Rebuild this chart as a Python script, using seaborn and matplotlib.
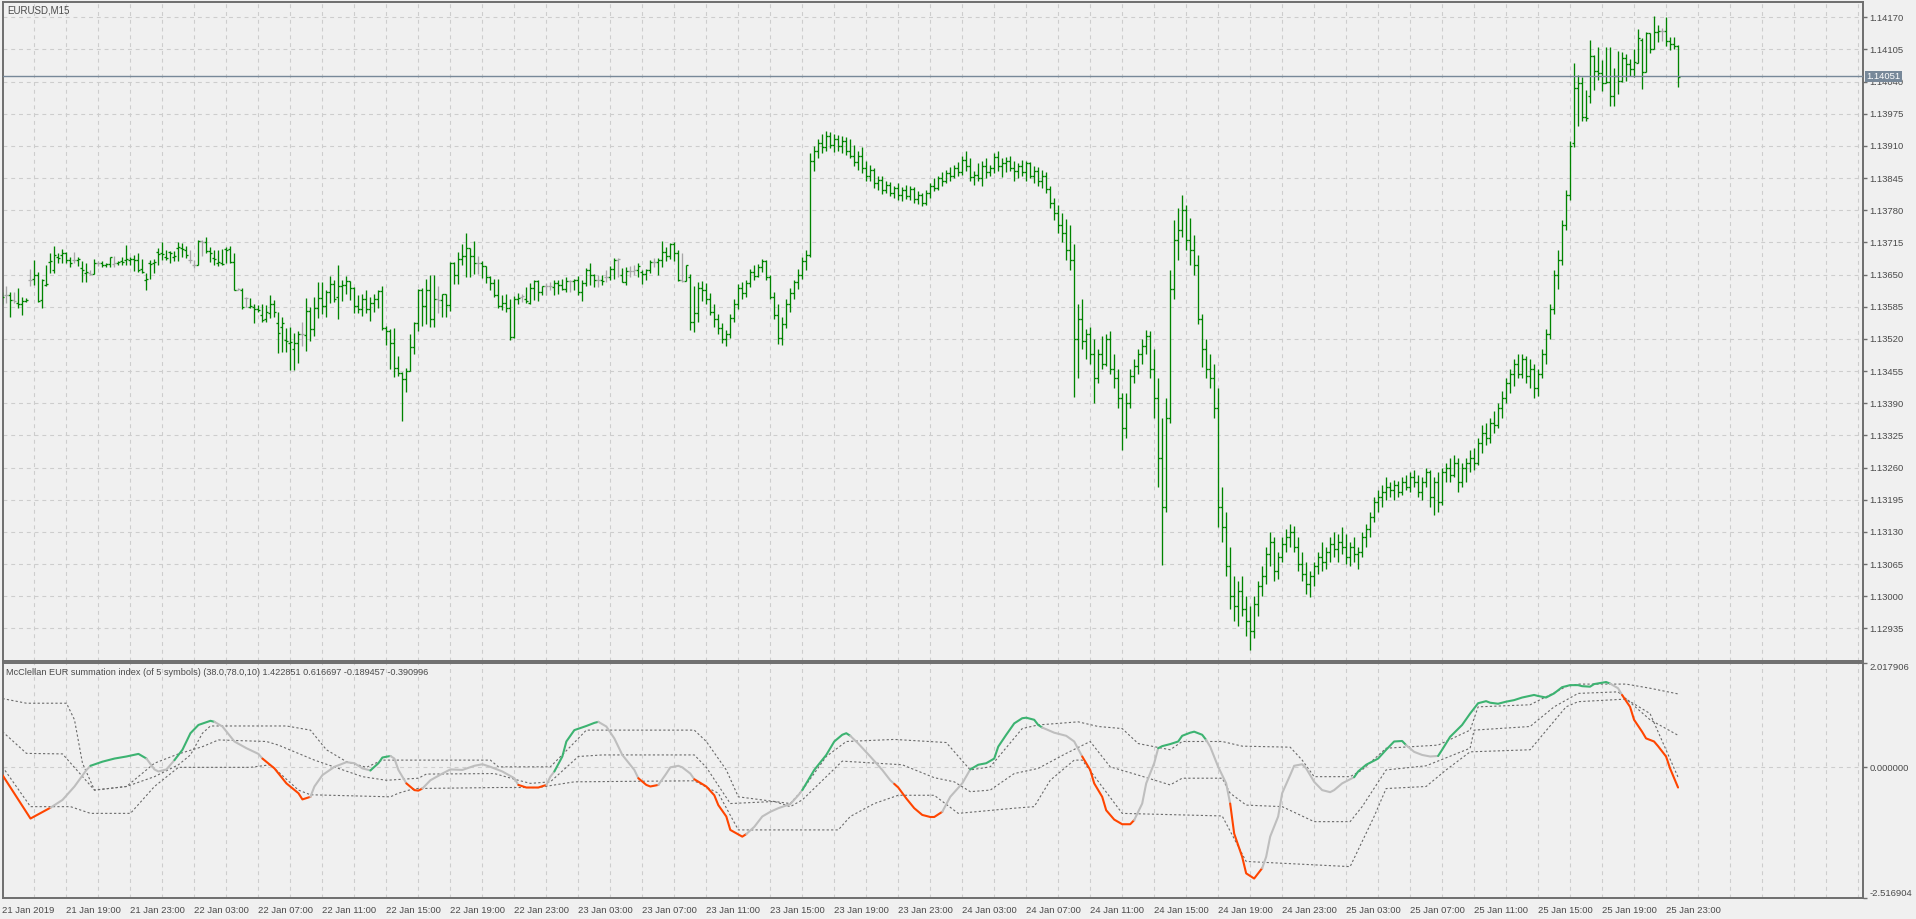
import numpy as np
import pandas as pd
import matplotlib
matplotlib.use("Agg")
import matplotlib.pyplot as plt
import seaborn as sns

sns.set_theme(style="white")
plt.rcParams['font.family'] = ['Liberation Sans', 'DejaVu Sans']

# ---------------- data ----------------
BASE = 1.12800          # prices are stored in points (1e-5) above BASE
bar_open  = [800,809,808,798,792,790,797,839,842,849,799,829,876,860,886,890,893,880,879,880,
             863,854,853,851,873,873,869,871,872,873,878,880,880,881,880,861,840,873,873,895,
             893,885,896,886,903,903,900,880,870,869,917,916,898,883,874,874,901,901,876,819,
             819,802,784,784,780,768,760,772,790,752,745,718,712,700,711,
             729,728,777,739,782,802,787,815,830,804,827,829,837,822,787,780,800,780,792,800,
             817,743,736,711,661,651,638,656,704,752,819,787,819,760,800,799,810,788,873,849,
             881,887,903,888,874,874,867,846,832,809,787,793,782,723,800,805,800,793,822,837,
             815,826,827,824,832,829,820,838,837,839,815,832,860,849,840,839,846,845,861,880,
             849,836,858,858,859,856,851,859,875,876,880,896,888,912,893,839,838,845,755,773,823,
             819,800,775,760,742,720,730,762,790,822,812,832,855,848,866,878,845,805,768,722,
             750,790,812,835,850,878,890,1080,1100,1115,1108,1130,1112,1125,1110,1120,1100,1090,1078,1090,
             1065,1050,1062,1035,1042,1020,1032,1015,1025,1010,1020,1008,1022,1002,1010,995,1015,1030,1025,1045,
             1040,1055,1050,1065,1058,1082,1070,1048,1052,1045,1070,1058,1066,1088,1070,1075,1080,1065,1060,1070,
             1058,1075,1050,1060,1040,1050,1022,995,975,950,935,900,880,720,760,715,730,690,640,690,
             670,720,660,640,600,540,590,645,665,690,705,725,660,600,480,380,560,820,920,940,
             980,920,900,870,760,700,660,640,580,380,340,260,200,180,210,175,150,130,185,220,
             240,285,310,250,280,305,320,330,300,265,245,225,240,260,280,270,290,305,295,310,
             300,280,300,285,290,320,335,360,390,400,410,420,415,425,410,430,420,440,430,410,
             430,450,400,430,390,450,460,445,470,430,460,470,480,470,510,530,520,550,545,580,
             600,630,650,670,650,680,645,660,620,650,690,730,780,850,880,950,1010,1115,1228,1237,
             1169,1211,1292,1262,1258,1238,1240,1211,1251,1241,1287,1275,1265,1278,1325,1260,1338,1305,1340,1342,
             1343,1323,1317,1312]
bar_high  = [815,827,814,814,822,804,802,861,880,855,842,869,893,908,893,901,896,886,896,886,
             878,873,859,881,878,878,873,886,888,878,885,910,885,890,893,881,853,880,881,903,
             915,900,898,898,915,913,908,900,880,919,919,925,905,900,900,901,906,908,893,822,
             822,805,802,791,789,791,789,809,799,775,765,743,745,731,735,
             754,802,785,804,836,836,819,847,839,869,839,847,838,824,809,810,819,805,811,819,
             826,746,741,743,686,654,661,730,754,820,822,842,849,849,827,811,811,876,876,896,
             912,935,903,918,888,878,867,847,842,841,809,811,800,807,812,810,824,832,839,839,
             827,832,836,840,839,842,846,840,842,847,840,863,874,851,849,849,859,867,883,883,
             863,866,867,869,874,859,861,880,883,883,917,906,913,915,900,893,869,851,827,836,838,
             832,812,790,770,752,738,770,800,830,835,840,862,870,872,882,880,850,815,790,765,
             800,822,840,862,885,900,1096,1110,1125,1135,1140,1138,1135,1133,1130,1128,1125,1112,1100,1108,
             1080,1072,1065,1050,1050,1040,1038,1030,1035,1028,1032,1030,1028,1018,1015,1020,1035,1045,1050,1058,
             1062,1068,1072,1078,1090,1100,1085,1060,1075,1080,1085,1072,1095,1100,1085,1088,1090,1080,1075,1082,
             1080,1078,1070,1068,1062,1058,1030,1005,990,975,962,950,912,790,800,740,745,720,700,725,
             730,735,690,660,610,610,660,680,700,720,738,735,700,640,560,600,860,960,985,1010,
             990,965,930,890,770,720,690,670,620,420,370,300,240,230,240,200,180,200,230,260,
             300,330,320,290,320,335,345,342,320,290,270,250,270,290,310,300,320,330,325,340,
             325,310,320,300,330,345,370,400,415,425,440,430,435,432,440,445,450,455,445,440,
             460,455,440,450,460,470,480,485,480,470,480,495,500,520,545,550,560,575,590,615,
             640,660,680,690,690,685,680,670,660,700,740,790,860,900,960,1020,1120,1278,1253,1250,
             1223,1325,1294,1309,1284,1309,1309,1267,1301,1299,1295,1285,1305,1346,1328,1341,1339,1373,1354,1348,
             1370,1330,1330,1314]
bar_low   = [790,792,764,792,782,768,795,827,829,795,782,827,853,854,873,873,874,866,874,867,
             834,836,849,851,867,866,866,866,866,869,869,869,869,858,856,853,818,842,854,869,
             880,880,874,878,878,886,883,873,863,869,888,893,876,869,867,869,874,873,818,818,
             780,784,782,753,775,755,755,762,765,691,694,694,657,657,672,
             706,696,715,726,762,771,765,793,795,760,797,811,799,772,772,767,772,757,775,782,
             738,707,659,644,645,555,613,655,690,735,746,750,745,745,772,764,764,777,831,831,
             869,845,845,851,851,843,832,819,805,782,778,775,718,722,791,795,792,791,799,797,
             809,809,818,809,811,818,815,814,818,809,797,827,829,824,824,829,834,840,842,845,
             834,829,845,849,845,831,840,854,865,849,865,878,881,878,838,836,838,738,733,755,797,
             790,768,745,730,712,706,722,755,780,800,805,825,840,845,855,840,800,760,710,708,
             742,775,800,820,842,860,885,1060,1085,1095,1100,1105,1098,1100,1095,1092,1085,1070,1062,1055,
             1040,1040,1025,1020,1012,1015,1008,1005,1000,998,1002,1000,995,992,988,990,1005,1018,1020,1030,
             1035,1040,1045,1050,1052,1060,1040,1032,1040,1030,1045,1050,1055,1060,1048,1058,1060,1040,1045,1050,
             1040,1045,1035,1030,1025,1015,985,960,935,915,880,860,602,640,700,680,670,590,630,660,
             665,650,620,580,496,520,580,630,650,670,690,640,560,420,263,370,550,800,880,925,
             900,870,850,750,664,640,620,560,340,310,240,175,150,140,160,120,91,115,160,200,
             225,260,230,235,270,290,300,290,250,230,205,199,220,245,250,255,270,280,270,285,
             265,260,270,255,280,300,320,350,370,380,395,400,395,400,405,415,410,420,400,395,
             420,380,365,370,385,430,430,440,410,420,430,450,455,465,490,505,510,530,540,560,
             590,610,625,640,640,630,620,600,605,640,670,720,770,820,870,940,1000,1108,1150,1160,
             1160,1196,1223,1243,1222,1237,1191,1191,1215,1240,1242,1251,1249,1278,1226,1260,1297,1305,1321,1323,
             1311,1304,1305,1230]
bar_close = [805,808,798,797,790,797,799,839,849,797,840,831,878,890,884,894,880,874,880,882,
             859,856,852,873,873,869,871,885,873,875,876,882,882,879,860,856,842,871,875,892,
             891,883,894,888,905,901,890,879,869,917,916,898,894,881,876,872,899,876,819,820,
             784,802,786,780,778,758,775,790,775,731,752,716,714,711,729,
             729,777,739,782,802,787,815,830,800,827,829,837,822,787,780,800,780,792,800,817,
             743,736,711,661,651,638,656,704,752,819,787,819,760,800,799,810,788,873,849,881,
             887,903,888,873,874,867,846,832,809,787,793,782,723,800,802,806,797,822,837,815,
             826,827,826,832,829,820,838,837,839,815,832,860,849,840,839,837,845,861,880,881,
             836,858,857,859,867,851,859,875,876,880,896,888,912,893,839,838,869,755,773,823,819,
             800,775,760,742,720,730,762,790,822,812,832,855,848,866,878,845,805,768,722,750,
             790,812,835,850,878,890,1080,1100,1115,1108,1130,1112,1125,1110,1120,1100,1090,1078,1090,1065,
             1050,1062,1035,1042,1020,1032,1015,1025,1010,1020,1008,1022,1002,1010,995,1015,1030,1025,1045,1040,
             1055,1050,1065,1058,1082,1070,1048,1052,1045,1070,1058,1066,1088,1070,1075,1080,1065,1060,1070,1058,
             1075,1050,1060,1040,1050,1022,995,975,950,935,900,880,720,760,715,730,690,640,690,670,
             720,660,640,600,540,590,645,665,690,705,725,660,600,480,380,560,820,920,940,980,
             920,900,870,760,700,660,640,580,380,340,260,200,180,210,175,150,130,185,220,240,
             285,310,250,280,305,320,330,300,265,245,225,240,260,280,270,290,305,295,310,300,
             280,300,285,290,320,335,360,390,400,410,420,415,425,410,430,420,440,430,410,430,
             450,400,430,390,450,460,445,470,430,460,470,480,470,510,530,520,550,545,580,600,
             630,650,670,650,680,645,660,620,650,690,730,780,850,880,950,1010,1110,1228,1237,1168,
             1167,1292,1262,1258,1238,1240,1211,1251,1241,1287,1275,1265,1280,1328,1260,1338,1305,1341,1342,1343,
             1323,1317,1311,1250]
current_price = 1.14051

ind_idx = [0,7,12,15,18,21,22,25,28,31,34,36,38,39,41,43,45,47,49,52,53,55,58,61,64,65,68,71,74,75,
           77,78,80,83,86,88,90,92,94,95,97,98,99,101,103,104,105,107,110,112,115,118,120,122,125,128,129,131,134,136,
           137,138,140,141,143,146,148,149,151,153,155,158,159,161,162,164,166,167,169,170,172,173,176,178,179,181,182,185,186,188,
           190,192,194,197,199,200,203,206,208,210,211,212,214,217,220,222,223,224,226,228,230,232,233,235,237,240,242,244,246,248,
           249,251,253,255,256,258,259,260,263,266,268,270,272,273,275,276,278,280,282,283,285,286,288,289,290,292,294,295,297,298,
           300,301,302,304,306,307,308,310,311,313,314,315,316,317,319,320,322,323,325,326,328,330,332,333,335,338,339,341,344,346,
           348,350,351,353,355,357,359,360,362,365,367,369,371,372,374,376,378,380,383,384,386,388,390,392,394,395,397,398,401,402,
           404,405,407,408,410,411,413,414,416,417,419]
ind_main = [-0.15,-0.99,-0.78,-0.63,-0.37,-0.05,0.03,0.11,0.17,0.21,0.26,0.17,-0.04,-0.08,-0.04,0.14,0.34,0.66,0.82,0.90,0.88,0.79,0.50,0.37,0.26,0.17,-0.02,-0.31,-0.50,-0.62,
            -0.57,-0.37,-0.15,0.01,0.10,0.08,-0.02,-0.06,0.08,0.19,0.22,0.17,-0.05,-0.31,-0.44,-0.45,-0.41,-0.25,-0.12,-0.04,-0.05,0.03,0.06,0.01,-0.08,-0.21,-0.34,-0.39,-0.39,-0.34,
            -0.18,-0.08,0.21,0.50,0.72,0.80,0.86,0.88,0.79,0.56,0.24,-0.05,-0.21,-0.34,-0.37,-0.34,-0.12,0.00,0.03,0.00,-0.12,-0.23,-0.37,-0.54,-0.73,-0.95,-1.21,-1.34,-1.29,-1.15,
            -0.95,-0.86,-0.79,-0.71,-0.54,-0.44,-0.05,0.24,0.50,0.63,0.66,0.61,0.46,0.21,-0.05,-0.25,-0.32,-0.39,-0.60,-0.79,-0.92,-0.96,-0.96,-0.86,-0.57,-0.31,-0.04,0.05,0.08,0.17,
            0.40,0.63,0.85,0.95,0.96,0.92,0.82,0.77,0.67,0.61,0.50,0.21,-0.05,-0.31,-0.57,-0.83,-1.01,-1.10,-1.10,-1.02,-0.70,-0.31,0.08,0.37,0.41,0.45,0.50,0.61,0.67,0.69,
            0.63,0.53,0.40,0.01,-0.31,-0.70,-1.28,-1.73,-2.05,-2.15,-2.05,-1.95,-1.73,-1.34,-0.95,-0.50,-0.15,0.03,0.06,-0.02,-0.28,-0.44,-0.48,-0.44,-0.31,-0.19,-0.08,0.05,0.17,0.34,
            0.50,0.51,0.43,0.30,0.24,0.21,0.22,0.34,0.59,0.82,1.04,1.24,1.28,1.25,1.23,1.27,1.30,1.35,1.40,1.38,1.35,1.43,1.55,1.59,1.59,1.57,1.56,1.61,1.65,1.62,
            1.53,1.40,1.17,0.92,0.69,0.56,0.50,0.41,0.21,-0.02,-0.39]
# bar ranges [start, end) where the main line is drawn above the upper / below the lower level
green_runs = [(22,36),(43,53),(92,97),(138,149),(200,212),(242,260),(289,301),(338,351),(359,402)]
red_runs   = [(0,12),(65,77),(101,105),(129,136),(159,164),(173,186),(223,235),(270,283),(307,315),(405,420)]

up_idx = [0,6,16,18,20,23,31,38,44,47,50,52,71,77,81,86,91,95,122,124,137,142,146,173,176,181,184,197,200,206,211,223,
          236,242,247,255,259,269,274,280,284,292,295,305,310,322,325,328,337,340,346,359,367,369,382,391,394,406,412,419]
up_val = [1.33,1.24,1.24,0.92,0.08,-0.44,-0.37,-0.18,0.05,0.24,0.66,0.80,0.80,0.72,0.34,0.11,0.00,0.14,0.14,0.01,0.01,0.40,0.72,0.72,0.50,-0.05,-0.57,-0.70,-0.44,0.21,0.50,0.54,
          0.48,-0.05,0.01,0.75,0.82,0.88,0.79,0.75,0.46,0.34,0.50,0.50,0.41,0.39,0.14,-0.18,-0.18,-0.05,0.37,0.43,0.72,1.17,1.21,1.56,1.61,1.61,1.53,1.42]
mid_idx = [0,6,15,23,31,38,44,50,54,66,69,78,90,96,104,106,123,129,132,137,144,150,173,176,182,193,197,200,210,225,233,
           238,242,247,253,259,266,272,277,284,292,295,305,307,311,320,328,337,340,346,356,367,368,382,388,394,404,412,419]
mid_val = [0.69,0.27,0.26,-0.44,-0.37,0.08,0.26,0.40,0.53,0.50,0.43,0.14,-0.18,-0.25,-0.21,-0.13,-0.12,-0.25,-0.31,-0.28,0.21,0.24,0.24,0.00,-0.70,-0.66,-0.76,-0.63,0.12,0.05,-0.20,
           -0.28,-0.47,-0.44,-0.12,-0.02,0.27,0.50,0.01,-0.15,-0.34,-0.21,-0.21,-0.50,-0.73,-0.76,-1.05,-1.05,-0.76,-0.05,0.03,0.37,0.72,0.79,1.17,1.43,1.46,0.92,0.62]
lo_idx = [0,7,17,22,32,38,44,62,67,74,77,97,99,103,124,134,143,173,179,184,209,212,218,224,233,
          239,253,258,262,268,270,280,305,311,337,343,346,356,361,367,382,391,394,406,412,419]
lo_val = [0.01,-0.76,-0.76,-0.89,-0.89,-0.37,0.00,0.00,0.05,-0.44,-0.53,-0.57,-0.50,-0.41,-0.39,-0.39,-0.28,-0.26,-0.50,-1.21,-1.21,-0.95,-0.70,-0.54,-0.54,
          -0.89,-0.79,-0.76,-0.25,0.14,0.14,-0.89,-0.94,-1.82,-1.92,-0.95,-0.41,-0.37,-0.05,0.30,0.34,1.17,1.27,1.32,1.04,-0.19]

price_ticks = [1.12935,1.13000,1.13065,1.13130,1.13195,1.13260,1.13325,1.13390,1.13455,1.13520,
               1.13585,1.13650,1.13715,1.13780,1.13845,1.13910,1.13975,1.14040,1.14105,1.14170]
ind_ticks = [-2.516904, 0.0, 2.017906]
ind_tick_labels = ["-2.516904", "0.000000", "2.017906"]
time_labels = ["21 Jan 2019","21 Jan 19:00","21 Jan 23:00","22 Jan 03:00","22 Jan 07:00","22 Jan 11:00",
               "22 Jan 15:00","22 Jan 19:00","22 Jan 23:00","23 Jan 03:00","23 Jan 07:00","23 Jan 11:00",
               "23 Jan 15:00","23 Jan 19:00","23 Jan 23:00","24 Jan 03:00","24 Jan 07:00","24 Jan 11:00",
               "24 Jan 15:00","24 Jan 19:00","24 Jan 23:00","25 Jan 03:00","25 Jan 07:00","25 Jan 11:00",
               "25 Jan 15:00","25 Jan 19:00","25 Jan 23:00"]
chart_title = "EURUSD,M15"
ind_title = "McClellan EUR summation index (of 5 symbols) (38.0,78.0,10) 1.422851 0.616697 -0.189457 -0.390996"

# ---------------- figure ----------------
W, H = 1916, 919
BG = "#f0f0f0"
AXC = "#6e6e6e"
TXT = "#4a4a4a"
GRID = "#cdcdcd"
BAR = "#008400"

fig = plt.figure(figsize=(W / 100, H / 100), dpi=100, facecolor=BG)
L, R = 2.5, 1863.0
ax1 = fig.add_axes([L / W, 1 - 661 / H, (R - L) / W, (661 - 2) / H])
ax2 = fig.add_axes([L / W, 1 - 897.5 / H, (R - L) / W, (897.5 - 663) / H])

SLOTS = 465.25
for ax in (ax1, ax2):
    ax.set_facecolor(BG)
    ax.set_xlim(0.12, SLOTS)
    for s in ax.spines.values():
        s.set_color(AXC)
        s.set_linewidth(1.4)
    for k in range(8, 466, 8):
        ax.axvline(k, color=GRID, lw=0.8, ls=(0, (3.5, 3.5)), zorder=0)

# price bars
o = BASE + np.array(bar_open) * 1e-5
h = BASE + np.array(bar_high) * 1e-5
l = BASE + np.array(bar_low) * 1e-5
c = BASE + np.array(bar_close) * 1e-5
x = np.arange(len(o))
cols = np.where(np.isclose(o, c), "#a8a8a8", BAR)
ax1.vlines(x, l, h, colors=cols, lw=0.95, zorder=3)
ax1.hlines(o, x - 0.5, x, colors=cols, lw=0.95, zorder=3)
ax1.hlines(c, x, x + 0.5, colors=cols, lw=0.95, zorder=3)

ytop = 1.14170 + (17.3 - 2) / 32.16 * 0.00065
ybot = 1.14170 - (661 - 17.3) / 32.16 * 0.00065
ax1.set_ylim(ybot, ytop)
for t in price_ticks:
    ax1.axhline(t, color=GRID, lw=0.8, ls=(0, (3.5, 3.5)), zorder=0)
ax1.yaxis.tick_right()
ax1.set_yticks(price_ticks)
ax1.set_yticklabels([f"{t:.5f}" for t in price_ticks])
ax1.tick_params(axis="y", length=3, width=1, color=AXC, labelsize=6.8, labelcolor=TXT, pad=1.5)
ax1.set_xticks([])

ax1.axhline(current_price, color="#778899", lw=1.0, zorder=4)
ax1.annotate(f"{current_price:.5f}", xy=(1.0, current_price), xycoords=("axes fraction", "data"),
             xytext=(3.5, 0), textcoords="offset pixels", ha="left", va="center",
             fontsize=6.8, color="white",
             bbox=dict(boxstyle="square,pad=0.12", fc="#778899", ec="none"), zorder=10,
             annotation_clip=False)
fig.text(7 / W, 1 - 13.5 / H, chart_title, fontsize=7.0, color=TXT, ha="left", va="baseline")

# indicator
ax2.set_ylim(-2.516904, 2.017906)
ax2.axhline(0, color=GRID, lw=0.8, ls=(0, (3.5, 3.5)), zorder=0)
for xs, ys in ((up_idx, up_val), (mid_idx, mid_val), (lo_idx, lo_val)):
    sns.lineplot(x=xs, y=ys, ax=ax2, color="#6a6a6a", lw=0.8, ls=(0, (2, 2)),
                 sort=False, estimator=None, zorder=2)

def state_of(i):
    for a, b in green_runs:
        if a <= i < b:
            return "g"
    for a, b in red_runs:
        if a <= i < b:
            return "r"
    return "n"

COLS = {"g": "#3cb371", "r": "#ff4500", "n": "#bebebe"}
states = [state_of(i) for i in ind_idx]
n = len(ind_idx)
start = 0
while start < n - 1:
    st = states[start]
    end = start
    while end < n - 1 and states[end] == st:
        end += 1
    sns.lineplot(x=ind_idx[start:end + 1], y=ind_main[start:end + 1], ax=ax2, color=COLS[st],
                 lw=1.5, sort=False, estimator=None, zorder=4)
    start = end

ax2.yaxis.tick_right()
ax2.set_yticks(ind_ticks)
ax2.set_yticklabels(ind_tick_labels)
ax2.tick_params(axis="y", length=3, width=1, color=AXC, labelsize=6.8, labelcolor=TXT, pad=1.5)
lbls = ax2.get_yticklabels()
lbls[0].set_va("bottom")
lbls[2].set_va("top")
ax2.set_xticks(range(0, 16 * len(time_labels), 16))
ax2.set_xticklabels(time_labels, ha="left")
ax2.tick_params(axis="x", length=5, width=1, color=AXC, labelsize=6.8, labelcolor=TXT, pad=1)
ax2.set_xlabel("")
ax2.set_ylabel("")
fig.text(6 / W, 1 - 675 / H, ind_title, fontsize=6.6, color=TXT, ha="left", va="baseline")

fig.savefig("out.png", dpi=100, facecolor=BG)
